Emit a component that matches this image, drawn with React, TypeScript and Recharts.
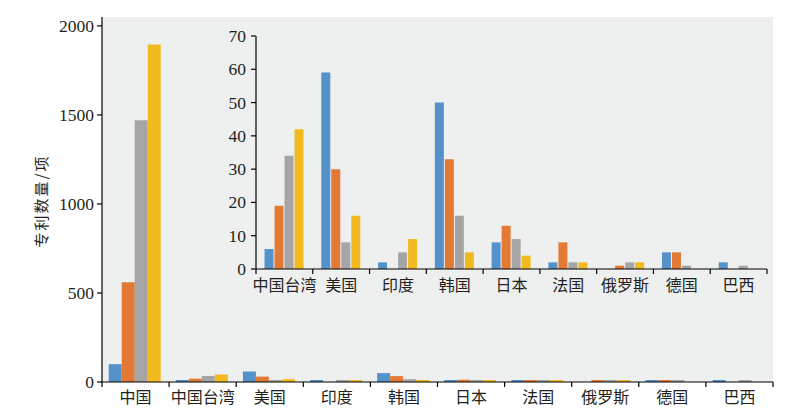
import React from "react";
import { BarChart, Bar, XAxis, YAxis, CartesianGrid } from "recharts";

const categoriesMain = ["中国", "中国台湾", "美国", "印度", "韩国", "日本", "法国", "俄罗斯", "德国", "巴西"];
const seriesAMain = [100, 6, 59, 2, 50, 8, 2, 0, 5, 2];
const seriesBMain = [560, 19, 30, 0, 33, 13, 8, 1, 5, 0];
const seriesCMain = [1470, 34, 8, 5, 16, 9, 2, 2, 1, 1];
const seriesDMain = [1895, 42, 16, 9, 5, 4, 2, 2, 0, 0];

const categoriesInset = ["中国台湾", "美国", "印度", "韩国", "日本", "法国", "俄罗斯", "德国", "巴西"];
const seriesAInset = [6, 59, 2, 50, 8, 2, 0, 5, 2];
const seriesBInset = [19, 30, 0, 33, 13, 8, 1, 5, 0];
const seriesCInset = [34, 8, 5, 16, 9, 2, 2, 1, 1];
const seriesDInset = [42, 16, 9, 5, 4, 2, 2, 0, 0];

const mainTicks = [0, 500, 1000, 1500, 2000];
const insetTicks = [0, 10, 20, 30, 40, 50, 60, 70];
const yTitle = "专利数量/项";

const COLORS = ["#5592CA", "#E27A36", "#A5A5A5", "#F2BA1F"];
const BG = "#EEEFEF";
const TEXT = "#231f20";
const CJK = "'Noto Sans CJK SC', sans-serif";
const SERIF = "'Liberation Serif', 'DejaVu Serif', serif";

const mainData = categoriesMain.map((c, i) => ({
  name: c,
  a: seriesAMain[i],
  b: seriesBMain[i],
  c: seriesCMain[i],
  d: seriesDMain[i],
}));
const insetData = categoriesInset.map((c, i) => ({
  name: c,
  a: seriesAInset[i],
  b: seriesBInset[i],
  c: seriesCInset[i],
  d: seriesDInset[i],
}));

const makeTick = (band: number, count: number, dy: number) => (props: any) => {
  const { x, y, payload, index } = props;
  const left = x - band / 2;
  const right = x + band / 2;
  return (
    <g>
      <line x1={left} x2={left} y1={y} y2={y + 5} stroke="#000" strokeWidth={1.2} />
      {index === count - 1 && (
        <line x1={right} x2={right} y1={y} y2={y + 5} stroke="#000" strokeWidth={1.2} />
      )}
      <text x={x} y={y + dy} textAnchor="middle" style={{ fontFamily: CJK, fontSize: 16 }} fill={TEXT}>
        {payload.value}
      </text>
    </g>
  );
};

const YTick = (props: any) => {
  const { x, y, payload } = props;
  return (
    <text
      x={x}
      y={y}
      dy={6}
      textAnchor="end"
      style={{ fontFamily: SERIF, fontSize: 17.5 }}
      fill={TEXT}
    >
      {payload.value}
    </text>
  );
};

const minSize = (v: any) => (Number(v) > 0 ? 2 : 0);

const MAIN_W = 783;
const MAIN_H = 411;
const mainMargin = { top: 9, right: 18, left: 34, bottom: 7 };
const MAIN_YW = 60;
const mainBand = (MAIN_W - mainMargin.left - mainMargin.right - MAIN_YW) / categoriesMain.length;

const INSET_W = 580;
const INSET_H = 280;
const insetMargin = { top: 16, right: 13, left: 16, bottom: 6 };
const INSET_YW = 40;
const insetBand = (INSET_W - insetMargin.left - insetMargin.right - INSET_YW) / categoriesInset.length;

export default function App() {
  return (
    <div style={{ position: "relative", width: MAIN_W, height: MAIN_H }}>
      <div style={{ position: "absolute", left: 0, top: 0 }}>
        <BarChart
          width={MAIN_W}
          height={MAIN_H}
          data={mainData}
          margin={mainMargin}
          barCategoryGap="10%"
          barGap={0}
        >
          <CartesianGrid fill={BG} stroke="none" horizontal={false} vertical={false} />
          <XAxis
            dataKey="name"
            height={30}
            interval={0}
            tickLine={false}
            tickSize={0}
            tickMargin={0}
            axisLine={{ stroke: "#000", strokeWidth: 1.2 }}
            tick={makeTick(mainBand, categoriesMain.length, 21)}
          />
          <YAxis
            width={MAIN_YW}
            domain={[0, 2050]}
            ticks={mainTicks}
            interval={0}
            tickSize={5}
            tickMargin={3}
            axisLine={{ stroke: "#000", strokeWidth: 1.2 }}
            tickLine={{ stroke: "#000", strokeWidth: 1.2 }}
            tick={YTick}
          />
          <Bar dataKey="a" fill={COLORS[0]} minPointSize={minSize} isAnimationActive={false} />
          <Bar dataKey="b" fill={COLORS[1]} minPointSize={minSize} isAnimationActive={false} />
          <Bar dataKey="c" fill={COLORS[2]} minPointSize={minSize} isAnimationActive={false} />
          <Bar dataKey="d" fill={COLORS[3]} minPointSize={minSize} isAnimationActive={false} />
        </BarChart>
      </div>
      <div style={{ position: "absolute", left: 192, top: 12 }}>
        <BarChart
          width={INSET_W}
          height={INSET_H}
          data={insetData}
          margin={insetMargin}
          barCategoryGap="15%"
          barGap={1}
        >
          <XAxis
            dataKey="name"
            height={25}
            interval={0}
            tickLine={false}
            tickSize={0}
            tickMargin={0}
            axisLine={{ stroke: "#000", strokeWidth: 1.2 }}
            tick={makeTick(insetBand, categoriesInset.length, 22)}
          />
          <YAxis
            width={INSET_YW}
            domain={[0, 70]}
            ticks={insetTicks}
            interval={0}
            tickSize={5}
            tickMargin={5}
            axisLine={{ stroke: "#000", strokeWidth: 1.2 }}
            tickLine={{ stroke: "#000", strokeWidth: 1.2 }}
            tick={YTick}
          />
          <Bar dataKey="a" fill={COLORS[0]} isAnimationActive={false} />
          <Bar dataKey="b" fill={COLORS[1]} isAnimationActive={false} />
          <Bar dataKey="c" fill={COLORS[2]} isAnimationActive={false} />
          <Bar dataKey="d" fill={COLORS[3]} isAnimationActive={false} />
        </BarChart>
      </div>
      <div
        style={{
          position: "absolute",
          left: -27,
          top: 183,
          width: 120,
          height: 20,
          lineHeight: "20px",
          textAlign: "center",
          transform: "rotate(-90deg)",
          fontFamily: CJK,
          fontSize: 15,
          letterSpacing: 2,
          color: TEXT,
          whiteSpace: "nowrap",
        }}
      >
        {yTitle}
      </div>
    </div>
  );
}
